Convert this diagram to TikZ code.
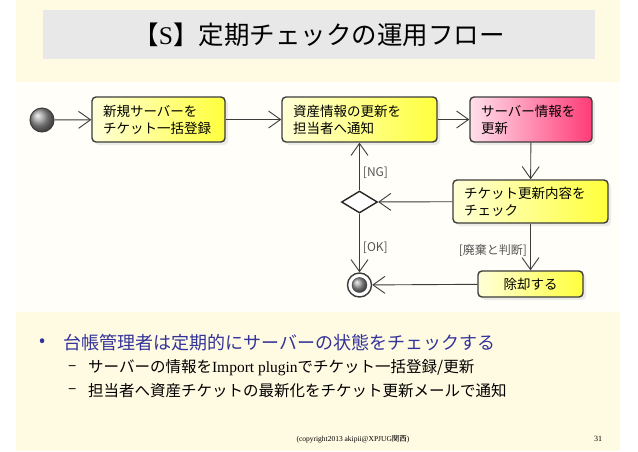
\documentclass[tikz,border=0pt]{standalone}
\usepackage{fontspec}
\setmainfont{Liberation Serif}
\newfontfamily\jpfont{Noto Sans CJK JP}
\usetikzlibrary{arrows.meta,positioning,shapes.geometric,shadows}
\definecolor{slidebg}{HTML}{FFFBE3}
\definecolor{flowbg}{HTML}{FFFEF8}
\definecolor{titlegray}{HTML}{E8E8E8}
\definecolor{bulletblue}{HTML}{333399}
\definecolor{lineclr}{HTML}{3C3C3C}
\definecolor{labelgray}{HTML}{555555}
\definecolor{boxyellowA}{HTML}{FFFFD8}
\definecolor{boxyellowB}{HTML}{FFFF3C}
\definecolor{boxpinkA}{HTML}{FFE0EC}
\definecolor{boxpinkB}{HTML}{FF3C78}
\tikzset{
flowbox/.style={draw=lineclr, line width=1.4pt, rounded corners=4pt, align=left, inner xsep=11pt, inner ysep=3pt, minimum height=45pt, font=\jpfont\fontsize{13.5}{17}\selectfont, left color=boxyellowA, right color=boxyellowB, drop shadow={shadow xshift=3pt, shadow yshift=-3pt, fill=black!15}},
pinkbox/.style={flowbox, left color=boxpinkA, right color=boxpinkB},
flowarrow/.style={-{Straight Barb[length=12pt,width=17pt]}, draw=lineclr, line width=0.9pt},
guardlabel/.style={text=labelgray, font=\jpfont\fontsize{12}{14}\selectfont, inner sep=3pt},
subitem/.style={anchor=west, inner sep=0pt, font=\jpfont\fontsize{15.5}{18}\selectfont}
}

\begin{document}
\begin{tikzpicture}[x=1pt,y=-1pt]
\useasboundingbox (0,0) rectangle (638,451);
\fill[white] (0,0) rectangle (638,451);
\fill[slidebg] (16,0) rectangle (620,451);
\fill[flowbg] (16,82) rectangle (620,312);

\node[fill=titlegray, minimum width=552pt, minimum height=49pt, font=\jpfont\fontsize{25.5}{28}\selectfont] (titlebar) at (319,34.5) {【{\rmfamily S}】定期チェックの運用フロー};

\node[circle, minimum size=24pt, inner sep=0pt, draw=lineclr, line width=1pt, ball color=black!40] (start) at (42,120) {};
\node[flowbox, text width=111pt] (register) at (158.5,119.5) {新規サーバーを\\チケット一括登録};
\node[flowbox, text width=133pt] (notify) at (359.5,119.5) {資産情報の更新を\\担当者へ通知};
\node[pinkbox, text width=100pt] (update) at (531,119.5) {サーバー情報を\\更新};
\node[flowbox, text width=133pt, minimum height=43pt] (check) at (530.5,201.5) {チケット更新内容を\\チェック};
\node[flowbox, text width=83pt, minimum height=26pt, align=center] (retire) at (530.5,284) {除却する};
\node[diamond, minimum width=36pt, minimum height=22pt, inner sep=0pt, draw=black!85, line width=1.4pt, fill=white] (judge) at (359.5,202) {};
\node[circle, minimum size=24pt, inner sep=0pt, draw=lineclr, line width=1.4pt, fill=white] (finish) at (359.5,285) {};
\node[circle, minimum size=15pt, inner sep=0pt, draw=lineclr, ball color=black!40] (finishdot) at (finish) {};

\draw[flowarrow] (start) -- (register);
\draw[flowarrow] (register) -- (notify);
\draw[flowarrow] (notify) -- (update);
\draw[flowarrow] (update) -- (check);
\draw[flowarrow] (check) -- (judge);
\draw[flowarrow] (judge) -- node[guardlabel, right, pos=0.37] {[NG]} (notify);
\draw[flowarrow] (judge) -- node[guardlabel, right, pos=0.58] {[OK]} (finish);
\draw[flowarrow] (check) -- node[guardlabel, left, pos=0.58] {[廃棄と判断]} (retire);
\draw[flowarrow] (retire) -- (finish);

\node[text=bulletblue, font=\jpfont\fontsize{18}{20}\selectfont, inner sep=0pt] (dot) at (43,343) {•};
\node[text=bulletblue, anchor=west, inner sep=0pt, font=\jpfont\fontsize{18}{20}\selectfont] (mainitem) at (63,343) {台帳管理者は定期的にサーバーの状態をチェックする};
\node[subitem] (dashA) at (68,368) {–};
\node[subitem] (subA) at (88,368) {サーバーの情報を{\rmfamily Import plugin}でチケット一括登録/更新};
\node[subitem] (dashB) at (68,391) {–};
\node[subitem] (subB) at (88,391) {担当者へ資産チケットの最新化をチケット更新メールで通知};

\node[font=\fontsize{7.5}{9}\selectfont, inner sep=0pt] (footer) at (353,439) {(copyright2013 akipii@XPJUG{\jpfont 関西})};
\node[font=\fontsize{8}{9}\selectfont, inner sep=0pt] (pageno) at (598,439) {31};
\end{tikzpicture}
\end{document}
